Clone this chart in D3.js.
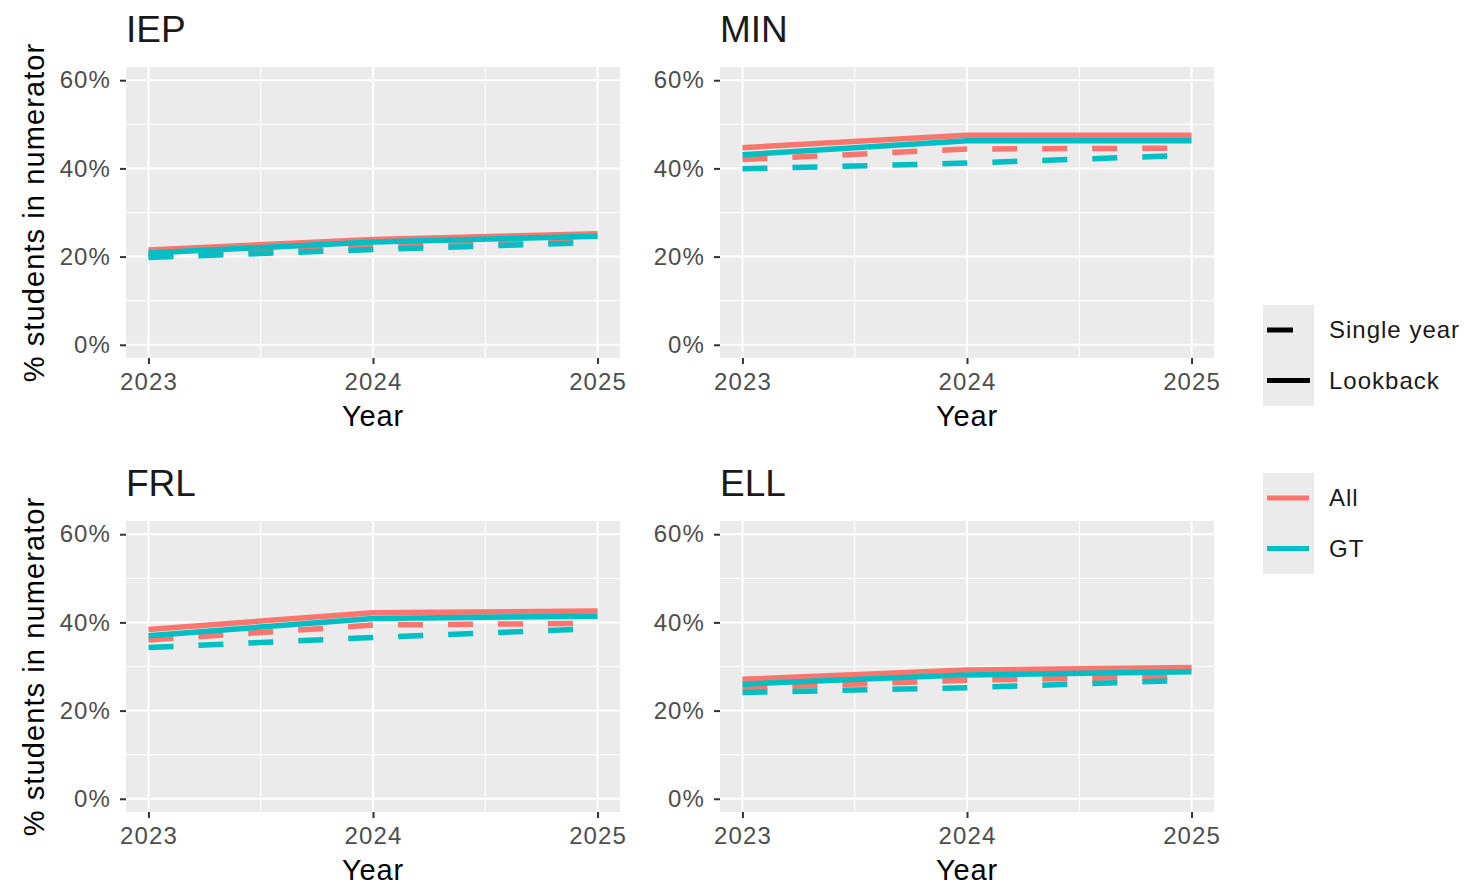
<!DOCTYPE html>
<html>
<head>
<meta charset="utf-8">
<script src="https://cdn.jsdelivr.net/npm/d3@7"></script>
<style>
  body { margin: 0; background: #fff; }
  svg { display: block; font-family: "Liberation Sans", Arial, sans-serif; }
</style>
</head>
<body>
<div id="chart"></div>
<script>
// Data (percent of students)
const panels = ['IEP', 'MIN', 'FRL', 'ELL'];
const years = [2023, 2024, 2025];
const yTicks = [0, 20, 40, 60];
const allLookback = [[21.5, 23.9, 25.2], [44.7, 47.5, 47.5], [38.4, 42.2, 42.6], [27.1, 29.2, 29.8]];
const gtLookback  = [[20.8, 23.3, 24.6], [43.1, 46.3, 46.3], [37.0, 40.9, 41.4], [26.0, 28.1, 28.8]];
const allSingle   = [[20.3, 22.2, 23.7], [42.0, 44.4, 44.6], [36.0, 39.4, 39.8], [25.1, 26.9, 27.7]];
const gtSingle    = [[19.8, 21.6, 23.2], [39.9, 41.2, 43.0], [34.3, 36.6, 38.6], [24.1, 25.2, 26.9]];
const groupNames = ['All', 'GT'];
const typeNames = ['Single year', 'Lookback'];

const colors = { All: '#F8766D', GT: '#00BFC4' };

const width = 1475, height = 885;
const svg = d3.select('#chart').append('svg')
    .attr('width', width)
    .attr('height', height);

// panel boxes
const colX = [126, 720];
const rowY = [67, 521];
const pw = 494, ph = 291;

const x = d3.scaleLinear().domain([2022.9, 2025.1]).range([0, pw]);
const y = d3.scaleLinear().domain([-3, 63]).range([ph, 0]);

const series = [
    { group: 'All', type: 'Lookback', values: allLookback },
    { group: 'All', type: 'Single year', values: allSingle },
    { group: 'GT', type: 'Lookback', values: gtLookback },
    { group: 'GT', type: 'Single year', values: gtSingle }
];

const line = d3.line()
    .x(d => x(d.year))
    .y(d => y(d.value));

panels.forEach((name, i) => {
    const col = i % 2, row = Math.floor(i / 2);
    const g = svg.append('g')
        .attr('transform', `translate(${colX[col]},${rowY[row]})`);

    g.append('rect')
        .attr('width', pw)
        .attr('height', ph)
        .attr('fill', '#EBEBEB');

    // minor grid
    const minorX = [2023.5, 2024.5];
    const minorY = [10, 30, 50];
    g.selectAll('.minor-x').data(minorX).join('line')
        .attr('x1', d => x(d)).attr('x2', d => x(d))
        .attr('y1', 0).attr('y2', ph)
        .attr('stroke', '#fff').attr('stroke-width', 1);
    g.selectAll('.minor-y').data(minorY).join('line')
        .attr('y1', d => y(d)).attr('y2', d => y(d))
        .attr('x1', 0).attr('x2', pw)
        .attr('stroke', '#fff').attr('stroke-width', 1);

    // major grid
    g.selectAll('.major-x').data(years).join('line')
        .attr('x1', d => x(d)).attr('x2', d => x(d))
        .attr('y1', 0).attr('y2', ph)
        .attr('stroke', '#fff').attr('stroke-width', 2);
    g.selectAll('.major-y').data(yTicks).join('line')
        .attr('y1', d => y(d)).attr('y2', d => y(d))
        .attr('x1', 0).attr('x2', pw)
        .attr('stroke', '#fff').attr('stroke-width', 2);

    // axes
    const yAxis = g.append('g')
        .call(d3.axisLeft(y).tickValues(yTicks).tickFormat(d => d + '%').tickSize(6).tickPadding(9));
    const xAxis = g.append('g')
        .attr('transform', `translate(0,${ph})`)
        .call(d3.axisBottom(x).tickValues(years).tickFormat(d3.format('d')).tickSize(6).tickPadding(9));
    [yAxis, xAxis].forEach(ax => {
        ax.select('.domain').remove();
        ax.selectAll('.tick line').attr('stroke', '#333').attr('stroke-width', 2);
        ax.selectAll('.tick text')
            .attr('fill', '#4D4D4D')
            .style('font-size', '24px')
            .style('letter-spacing', '1.1px');
    });

    // lines
    series.forEach(s => {
        const pts = years.map((yr, k) => ({ year: yr, value: s.values[i][k] }));
        g.append('path')
            .datum(pts)
            .attr('d', line)
            .attr('fill', 'none')
            .attr('stroke', colors[s.group])
            .attr('stroke-width', 5.5)
            .attr('stroke-dasharray', s.type === 'Single year' ? '25,25' : null);
    });

    // strip title
    g.append('text')
        .attr('x', 0)
        .attr('y', -25)
        .attr('fill', '#1A1A1A')
        .style('font-size', '37px')
        .text(name);

    // x title
    g.append('text')
        .attr('x', pw / 2)
        .attr('y', ph + 68)
        .attr('text-anchor', 'middle')
        .style('font-size', '29px')
        .style('letter-spacing', '0.8px')
        .text('Year');

    // y title on left column only
    if (col === 0) {
        g.append('text')
            .attr('transform', `translate(${36 - colX[0] + 8},${ph / 2}) rotate(-90)`)
            .attr('text-anchor', 'middle')
            .style('font-size', '29px')
            .style('letter-spacing', '1.1px')
            .text('% students in numerator');
    }
});

// legends
const legendX = 1263;
function drawLegend(top, items, drawKey) {
    const lg = svg.append('g').attr('transform', `translate(${legendX},${top})`);
    lg.append('rect')
        .attr('width', 51)
        .attr('height', items.length * 50.5)
        .attr('fill', '#EBEBEB');
    items.forEach((d, k) => {
        const cy = 25 + k * 50.5;
        drawKey(lg, d, cy);
        lg.append('text')
            .attr('x', 66)
            .attr('y', cy)
            .attr('dy', '0.35em')
            .attr('fill', '#1A1A1A')
            .style('font-size', '24px')
            .style('letter-spacing', '1px')
            .text(d);
    });
}

drawLegend(305, typeNames, (lg, d, cy) => {
    lg.append('line')
        .attr('x1', 4).attr('x2', d === 'Single year' ? 30 : 47)
        .attr('y1', cy).attr('y2', cy)
        .attr('stroke', '#000').attr('stroke-width', 5);
});

drawLegend(473, groupNames, (lg, d, cy) => {
    lg.append('line')
        .attr('x1', 4).attr('x2', 46)
        .attr('y1', cy).attr('y2', cy)
        .attr('stroke', colors[d]).attr('stroke-width', 5);
});
</script>
</body>
</html>
